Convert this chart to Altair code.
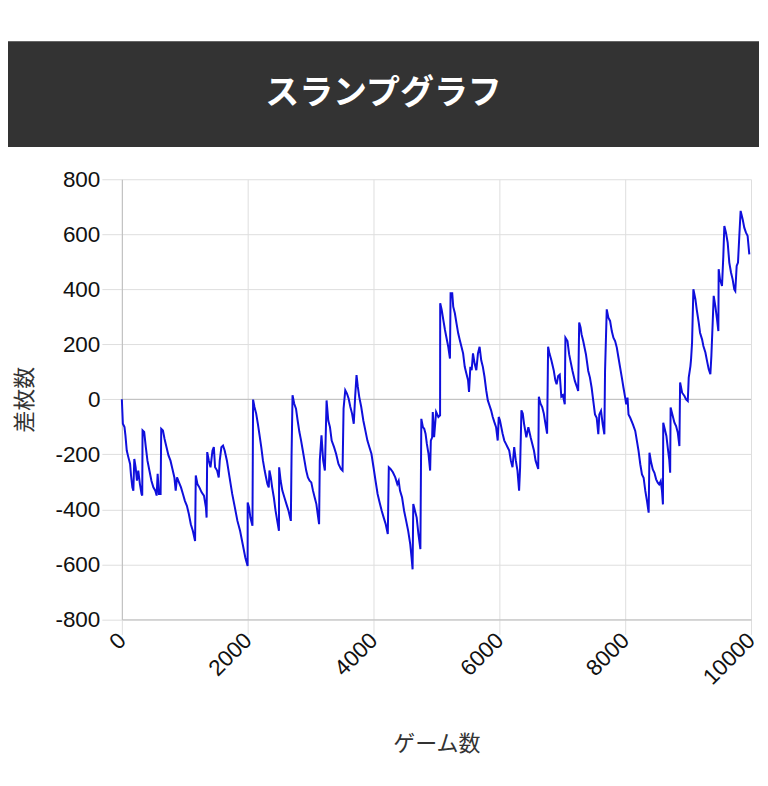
import altair as alt
import pandas as pd

TITLE = "スランプグラフ"
X_TITLE = "ゲーム数"
Y_TITLE = "差枚数"

x_ticks = [0, 2000, 4000, 6000, 8000, 10000]
y_ticks = [-800, -600, -400, -200, 0, 200, 400, 600, 800]

games_a = [0, 16, 42, 57, 78, 104, 131, 146, 167, 183, 198, 219, 240, 261, 287, 313, 324, 329, 355, 381,
           407, 438, 470, 501, 532, 553, 569, 590, 616, 626, 653, 679, 710, 741, 773, 804, 835, 856, 877, 908,
           940, 971, 1002, 1034, 1065, 1096, 1128, 1164, 1175, 1201, 1232, 1268, 1305, 1336, 1347, 1357, 1383,
           1409, 1441, 1462, 1482, 1514, 1540, 1556, 1582, 1608, 1634, 1670, 1712, 1754, 1796, 1837, 1879, 1921,
           1963, 1999]
values_a = [0, -89, -101, -131, -186, -211, -235, -277, -320, -332, -217, -247, -296, -259, -308, -344, -350,
            -113, -119, -174, -223, -259, -296, -320, -332, -350, -271, -344, -344, -107, -113, -144, -174, -204,
            -223, -253, -284, -332, -284, -302, -320, -344, -369, -387, -417, -454, -478, -515, -277, -308, -320,
            -338, -350, -393, -430, -192, -223, -247, -186, -174, -247, -259, -284, -223, -174, -168, -186, -223,
            -284, -344, -393, -442, -478, -527, -576, -606]

games_b = [2000, 2022, 2043, 2076, 2086, 2108, 2135, 2162, 2189, 2216, 2243, 2270, 2292, 2313, 2335, 2346, 2368,
           2389, 2416, 2443, 2470, 2497, 2500, 2524, 2551, 2584, 2616, 2649, 2686, 2697, 2713, 2740, 2768, 2794,
           2822, 2849, 2876, 2903, 2930, 2957, 2984, 3011, 3038, 3065, 3092, 3113, 3135, 3146, 3173, 3200, 3227,
           3254, 3281, 3308, 3335, 3373, 3405, 3443, 3481, 3508, 3524, 3551, 3578, 3605, 3632, 3659, 3686, 3708,
           3730, 3751, 3773, 3805, 3838, 3870, 3903, 3935, 3967, 4000, 4032, 4065, 4097, 4130, 4162, 4194, 4227,
           4243, 4270, 4308, 4346, 4378, 4400, 4421, 4454, 4486, 4519, 4551, 4584, 4605, 4621, 4632, 4659, 4686,
           4714, 4745, 4760]
values_b = [-375, -393, -430, -460, -1, -28, -52, -89, -131, -174, -223, -259, -284, -308, -320, -259, -284,
            -320, -357, -405, -442, -478, -247, -296, -332, -357, -381, -405, -442, -211, 15, -16, -34, -77,
            -119, -150, -186, -223, -259, -284, -296, -302, -332, -357, -381, -417, -454, -223, -131, -223, -259,
            -4, -77, -101, -150, -174, -198, -235, -253, -259, -34, 33, 21, 2, -28, -52, -89, 9,
            88, 45, 9, -28, -77, -113, -150, -174, -198, -247, -296, -344, -375, -405, -430, -454, -490,
            -247, -253, -265, -284, -308, -296, -332, -357, -405, -442, -478, -527, -576, -618, -381, -405, -430,
            -490, -545, -71]

games_c = [4785, 4806, 4827, 4848, 4874, 4900, 4911, 4932, 4942, 4963, 4995, 5031, 5058, 5060, 5084, 5110, 5136,
           5162, 5188, 5215, 5225, 5251, 5267, 5293, 5319, 5346, 5372, 5398, 5424, 5450, 5476, 5503, 5518, 5539,
           5560, 5581, 5607, 5634, 5660, 5686, 5712, 5738, 5764, 5791, 5817, 5843, 5869, 5895, 5921, 5948, 5974,
           5990, 6010, 6031, 6052, 6079, 6105, 6131, 6157, 6183, 6209, 6236, 6262, 6288, 6314, 6330, 6351, 6372,
           6393, 6429, 6461, 6497, 6524, 6550, 6576, 6618, 6628, 6655, 6681, 6707, 6733, 6759, 6775, 6796, 6827,
           6864, 6890, 6910, 6935, 6960, 6985, 7010, 7040, 7050]
values_c = [-101, -107, -125, -162, -198, -259, -150, -138, -46, -138, -46, -64, -58, 349, 325, 288, 252,
            221, 191, 148, 386, 386, 337, 313, 276, 240, 215, 191, 167, 118, 94, 69, 27, 118,
            106, 167, 130, 106, 167, 191, 142, 118, 82, 33, -4, -22, -40, -64, -83, -101, -150,
            -64, -77, -101, -125, -150, -162, -174, -186, -223, -247, -174, -223, -259, -332, -247, -40, -52,
            -89, -138, -101, -138, -162, -186, -223, -253, 9, -16, -28, -52, -89, -125, 191, 167, 142,
            106, 69, 55, 85, 90, 10, 15, -18, 224]

games_d = [7083, 7109, 7131, 7163, 7200, 7237, 7253, 7269, 7291, 7307, 7333, 7376, 7413, 7440, 7467, 7493, 7520,
           7547, 7573, 7589, 7616, 7643, 7669, 7680, 7707, 7733, 7760, 7787, 7813, 7840, 7867, 7893, 7920, 7947,
           7973, 8000, 8016, 8037, 8053, 8080, 8123, 8160, 8187, 8213, 8240, 8267, 8293, 8320, 8347, 8373, 8386,
           8413, 8439, 8465, 8492, 8518, 8540, 8565, 8585, 8600, 8605, 8630, 8655, 8680, 8700, 8715, 8722]
values_d = [212, 164, 139, 103, 67, 42, 30, 279, 261, 236, 212, 164, 103, 79, 42, -6, -55,
            -67, -127, -55, -42, -91, -127, 103, 327, 297, 285, 248, 224, 212, 188, 152, 115, 79,
            42, 6, -18, 6, -55, -67, -91, -115, -152, -188, -236, -273, -285, -333, -370, -412, -194,
            -230, -255, -267, -291, -303, -309, -297, -333, -382, -85, -109, -133, -182, -218, -267, -30]

games_e = [8756, 8783, 8809, 8836, 8862, 8873, 8905, 8942, 8968, 8995, 9010, 9037, 9047, 9063, 9084, 9116, 9137,
           9169, 9190, 9222, 9243, 9275, 9296, 9328, 9354, 9370, 9391, 9407, 9433, 9460, 9481, 9486, 9507, 9539,
           9560, 9576, 9602, 9629, 9655, 9682, 9708, 9734, 9750, 9772, 9793, 9814, 9835, 9867, 9893, 9920, 9946,
           9973]
values_e = [-61, -85, -97, -121, -170, 61, 24, 12, 0, -6, 79, 121, 145, 206, 400, 364, 327,
            279, 242, 218, 194, 170, 145, 109, 91, 158, 279, 376, 339, 291, 248, 473, 436, 412,
            521, 630, 606, 570, 497, 461, 436, 400, 394, 485, 497, 594, 685, 655, 624, 606, 594,
            527]

games = games_a + games_b + games_c + games_d + games_e
values = values_a + values_b + values_c + values_d + values_e

df = pd.DataFrame({"game": games, "diff": values})
zero_df = pd.DataFrame({"diff": [0]})
title_df = pd.DataFrame({"t": [TITLE]})

GRID = "#dedede"
AXISLINE = "#bdbdbd"

PLOT_W = 630
PLOT_H = 440.7
LEFT = 114          # space left of the plot area inside the svg
TOTAL_W = 752       # svg width available

x_enc = alt.X(
    "game:Q",
    scale=alt.Scale(domain=[0, 10000], nice=False, zero=False),
    axis=alt.Axis(values=x_ticks, title=X_TITLE, labelAngle=-45, labelAlign="right",
                  labelBaseline="middle", tickSize=15, labelPadding=2, titlePadding=45,
                  domainColor=AXISLINE, labelExpr="'' + datum.value"),
)
y_enc = alt.Y(
    "diff:Q",
    scale=alt.Scale(domain=[-800, 800], nice=False),
    axis=alt.Axis(values=y_ticks, title=Y_TITLE, tickSize=20, labelPadding=2, titlePadding=18,
                  domainColor=AXISLINE, labelExpr="'' + datum.value"),
)

# header banner (decoration), placed above the plot area
banner_bg = alt.Chart(title_df).mark_rect(color="#333333").encode(
    x=alt.value(-LEFT), x2=alt.value(TOTAL_W - LEFT), y=alt.value(-138.3), y2=alt.value(-32.3)
)
banner_text = alt.Chart(title_df).mark_text(
    font="Noto Sans CJK JP", fontSize=34, fontWeight="bold", color="white",
    align="center", baseline="middle"
).encode(text="t:N", x=alt.value(TOTAL_W / 2 - LEFT), y=alt.value(-85.3))

zero_rule = alt.Chart(zero_df).mark_rule(color=AXISLINE, strokeWidth=1).encode(y=y_enc)
line = alt.Chart(df).mark_line(color="#0f0fdc", strokeWidth=2).encode(x=x_enc, y=y_enc)

chart = alt.layer(zero_rule, line, banner_bg, banner_text).properties(
    width=PLOT_W, height=PLOT_H,
    padding={"top": 32, "left": 0, "right": 0, "bottom": 0},
    background="white",
).configure_view(stroke=None).configure_axis(
    labelFont="Liberation Sans", labelFontSize=22.5, labelColor="#111111",
    titleFont="Noto Sans CJK JP", titleFontSize=22, titleFontWeight="normal", titleColor="#333333",
    gridColor=GRID, tickColor=GRID, domainWidth=1,
)

chart.save("out.html", embed_options={"renderer": "svg", "actions": False})
